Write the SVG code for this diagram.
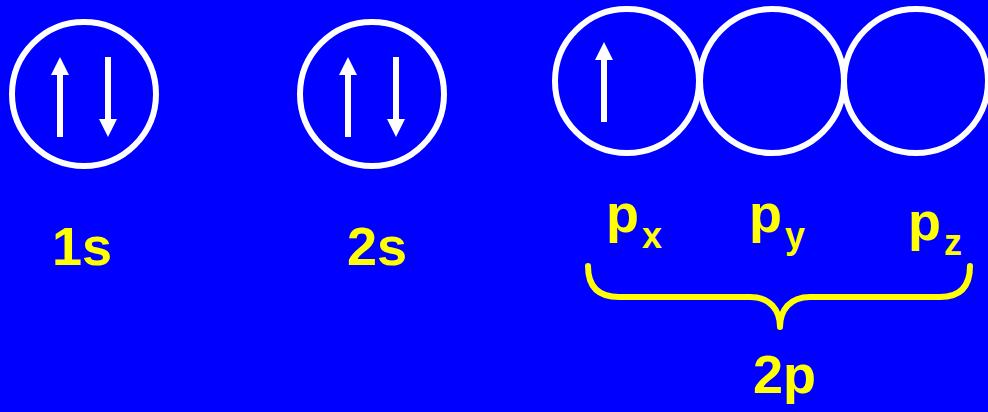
<svg xmlns="http://www.w3.org/2000/svg" xmlns:xlink="http://www.w3.org/1999/xlink" width="988" height="412" viewBox="0 0 988 412">
<style>
.orb{fill:none;stroke:#FFFFFF;stroke-width:6}
.arr{fill:#FFFFFF}
.lbl{font-family:"Comic Sans MS","Liberation Sans",sans-serif;font-weight:bold;fill:#FFFF00;font-size:54px}
.sub{font-size:36px}
.brace{fill:none;stroke:#FFFF00;stroke-width:6;stroke-linecap:round;stroke-linejoin:round}
</style>
<defs>
<path id="up" d="M-3,18 L-9,18 L0,0 L9,18 L3,18 L3,80 L-3,80 Z"/>
<path id="down" d="M-3,-18 L-9,-18 L0,0 L9,-18 L3,-18 L3,-80 L-3,-80 Z"/>
</defs>
<rect x="0" y="0" width="988" height="412" fill="#0000FF"/>
<g id="orbital-1s">
<circle class="orb" cx="84" cy="94" r="72"/>
<use href="#up" xlink:href="#up" class="arr" x="60" y="57"/>
<use href="#down" xlink:href="#down" class="arr" x="108" y="137"/>
<text class="lbl" x="52" y="265">1s</text>
</g>
<g id="orbital-2s">
<circle class="orb" cx="372" cy="94" r="72"/>
<use href="#up" xlink:href="#up" class="arr" x="348" y="57"/>
<use href="#down" xlink:href="#down" class="arr" x="396" y="137"/>
<text class="lbl" x="347" y="265">2s</text>
</g>
<g id="orbital-px">
<circle class="orb" cx="627" cy="81" r="72"/>
<use href="#up" xlink:href="#up" class="arr" x="604" y="42"/>
<text class="lbl" x="606" y="232">p<tspan class="sub" x="642" y="248">x</tspan></text>
</g>
<g id="orbital-py">
<circle class="orb" cx="772" cy="81" r="72"/>
<text class="lbl" x="749" y="232">p<tspan class="sub" x="785" y="248">y</tspan></text>
</g>
<g id="orbital-pz">
<circle class="orb" cx="916" cy="81" r="72"/>
<text class="lbl" x="908" y="240">p<tspan class="sub" x="944" y="255">z</tspan></text>
</g>
<g id="brace-2p">
<path class="brace" d="M588,266 Q588,297 619,297 L750,297 C770,297 780,310 780,327 C780,310 790,297 810,297 L940,297 Q970,297 970,266"/>
<text class="lbl" x="753" y="393">2p</text>
</g>
</svg>
